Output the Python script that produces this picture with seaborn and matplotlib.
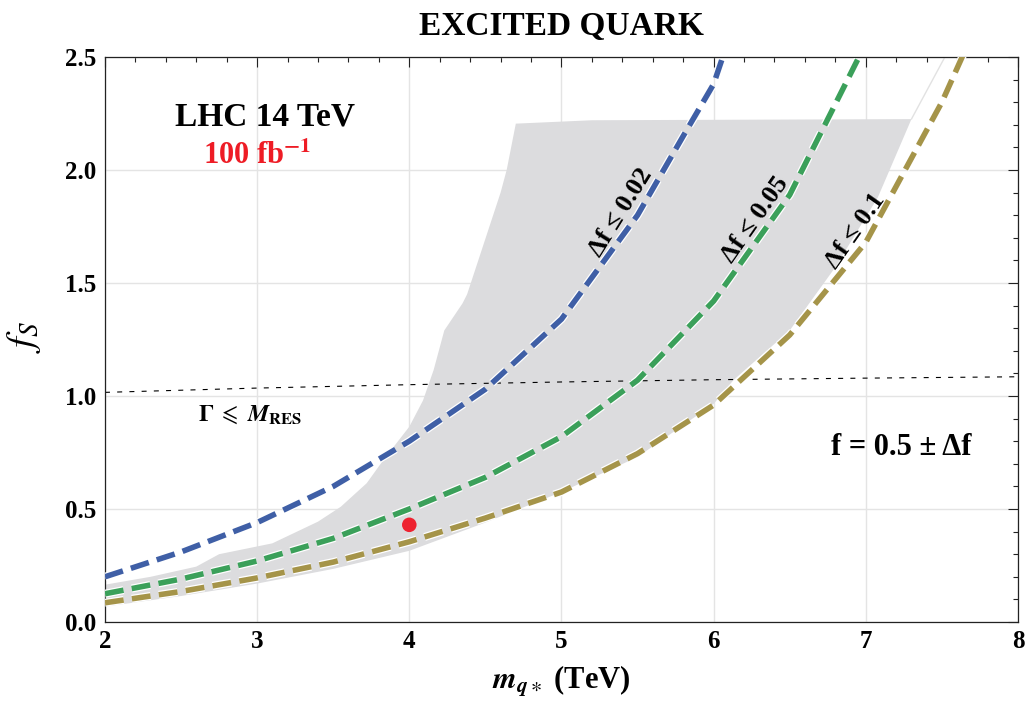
import numpy as np
import pandas as pd
import matplotlib
matplotlib.use("Agg")
import matplotlib.pyplot as plt
import matplotlib.patheffects as pe
from matplotlib.ticker import MultipleLocator
import seaborn as sns

# Mass grid (TeV) and f_S reach for each fraction tolerance
m_df002 = [2.0, 2.5, 3.0, 3.5, 4.0, 4.5, 5.0, 5.5, 5.8, 6.0, 6.1]
f_df002 = [0.20, 0.31, 0.44, 0.60, 0.80, 1.03, 1.34, 1.80, 2.15, 2.38, 2.58]

m_df005 = [2.0, 2.5, 3.0, 3.5, 4.0, 4.5, 5.0, 5.5, 6.0, 6.5, 7.0]
f_df005 = [0.125, 0.19, 0.27, 0.37, 0.50, 0.64, 0.82, 1.07, 1.42, 1.89, 2.56]

m_df01 = [2.0, 2.5, 3.0, 3.5, 4.0, 4.5, 5.0, 5.5, 6.0, 6.5, 7.0, 7.5, 7.7]
f_df01 = [0.085, 0.135, 0.195, 0.265, 0.355, 0.46, 0.575, 0.745, 0.96, 1.27, 1.68, 2.30, 2.60]

curve_labels = ["Δf ≤ 0.02", "Δf ≤ 0.05", "Δf ≤ 0.1"]
curve_colors = ["#3f5fa6", "#3ba05a", "#a59449"]

# Shaded discovery region: upper/left edge, then right/lower edge
band_upper_m = [2.0, 2.3, 2.6, 2.75, 3.1, 3.4, 3.55, 3.72, 3.83, 4.0, 4.09, 4.16,
                4.23, 4.35, 4.38, 4.6, 4.64, 4.70, 5.2, 7.3]
band_upper_f = [0.165, 0.20, 0.245, 0.30, 0.348, 0.444, 0.51, 0.614, 0.717, 0.864,
                0.98, 1.115, 1.29, 1.41, 1.45, 1.90, 2.0, 2.205, 2.22, 2.225]
band_lower_m = [7.3, 7.08, 6.8, 6.5, 6.13, 6.0, 5.5, 5.0, 4.5, 4.0, 3.5, 3.0, 2.5, 2.0]
band_lower_f = [2.225, 1.88, 1.57, 1.29, 1.07, 0.965, 0.73, 0.575, 0.44, 0.315,
                0.235, 0.17, 0.115, 0.068]
band_edge_m = [7.3, 7.52]
band_edge_f = [2.225, 2.5]

# Width condition Gamma <= M_RES
m_width = [2, 3, 4, 5, 6, 7, 8]
f_width = [1.016, 1.035, 1.05, 1.062, 1.072, 1.079, 1.085]

# Benchmark point
bench_m = [4.0]
bench_f = [0.43]

sns.set_theme(style="white")
plt.rcParams["font.family"] = ["Liberation Serif", "DejaVu Serif"]
plt.rcParams["mathtext.fontset"] = "stix"
plt.rcParams["axes.unicode_minus"] = True
plt.rcParams["text.color"] = "black"
plt.rcParams["axes.labelcolor"] = "black"
plt.rcParams["xtick.color"] = "black"
plt.rcParams["ytick.color"] = "black"

fig = plt.figure(figsize=(10.27, 7.12), dpi=100)
ax = fig.add_axes([0.1022, 0.1264, 0.8890, 0.7936])

ax.fill(band_upper_m + band_lower_m, band_upper_f + band_lower_f,
        color="#dcdcde", lw=0, zorder=1)
sns.lineplot(x=band_edge_m, y=band_edge_f, ax=ax, color="#e2e2e2", lw=1.0, zorder=1)

sns.lineplot(x=m_width, y=f_width, ax=ax, color="black", lw=0.8, zorder=2)
ax.lines[-1].set_dashes((4.5, 6.5))

curves = pd.DataFrame({
    "m": m_df002 + m_df005 + m_df01,
    "f": f_df002 + f_df005 + f_df01,
    "curve": [curve_labels[0]] * len(m_df002) + [curve_labels[1]] * len(m_df005)
             + [curve_labels[2]] * len(m_df01),
})
for lab, col in zip(curve_labels, curve_colors):
    sub = curves[curves["curve"] == lab]
    sns.lineplot(data=sub, x="m", y="f", ax=ax, color=col, lw=4.0,
                 sort=False, estimator=None, zorder=3)
    ln = ax.lines[-1]
    ln.set_dashes((3.4, 1.5))
    ln.set_path_effects([pe.Stroke(linewidth=5.8, foreground="white"), pe.Normal()])

sns.scatterplot(x=bench_m, y=bench_f, ax=ax, color="#ee2230", s=110,
                edgecolor="none", zorder=4)

ax.set_xlim(2, 8)
ax.set_ylim(0, 2.5)
ax.xaxis.set_major_locator(MultipleLocator(1))
ax.xaxis.set_minor_locator(MultipleLocator(0.2))
ax.yaxis.set_major_locator(MultipleLocator(0.5))
ax.yaxis.set_minor_locator(MultipleLocator(0.1))
ax.yaxis.set_major_formatter(matplotlib.ticker.FormatStrFormatter("%.1f"))
ax.grid(True, which="major", color="#e4e4e4", lw=1.0, zorder=0)
ax.set_axisbelow(True)
ax.tick_params(which="both", direction="in", top=True, right=True,
               color="#222222", labelcolor="black", width=0.8)
ax.tick_params(which="major", length=7.5, labelsize=18, pad=6)
ax.tick_params(which="minor", length=3.8)
for lab in ax.get_xticklabels() + ax.get_yticklabels():
    lab.set_fontweight("bold")
for sp in ax.spines.values():
    sp.set_color("#222222")
    sp.set_linewidth(0.9)

ax.set_title("EXCITED QUARK", fontsize=24, fontweight="bold", pad=16, color="black")
ax.set_xlabel(r"$\boldsymbol{m}_{\boldsymbol{q}\ast}$ (TeV)", fontsize=22,
              fontweight="bold", labelpad=8)
ax.set_ylabel(r"$f_S$", fontsize=28, labelpad=14)
ax.yaxis.set_label_coords(-0.068, 0.505)

ax.text(3.05, 2.235, "LHC 14 TeV", fontsize=24, fontweight="bold",
        ha="center", va="center")
ax.text(3.0, 2.06, r"100 fb$^{\mathbf{-1}}$", fontsize=22, fontweight="bold",
        color="#ee1c25", ha="center", va="center")
ax.text(2.95, 0.916, r"$\mathbf{\Gamma}\ \leqslant\ \boldsymbol{M}_{\mathbf{RES}}$",
        fontsize=17, ha="center", va="center")
ax.text(7.23, 0.774, "f = 0.5 ± Δf", fontsize=22, fontweight="bold",
        ha="center", va="center")

label_pos = [(5.39, 1.81, 58), (6.27, 1.78, 55), (6.93, 1.73, 55)]
for lab, (xm, yf, rot) in zip(curve_labels, label_pos):
    ax.text(xm, yf, lab, fontsize=19, fontweight="bold", rotation=rot,
            rotation_mode="anchor", ha="center", va="center", zorder=5)

fig.savefig("out.png", dpi=100)
